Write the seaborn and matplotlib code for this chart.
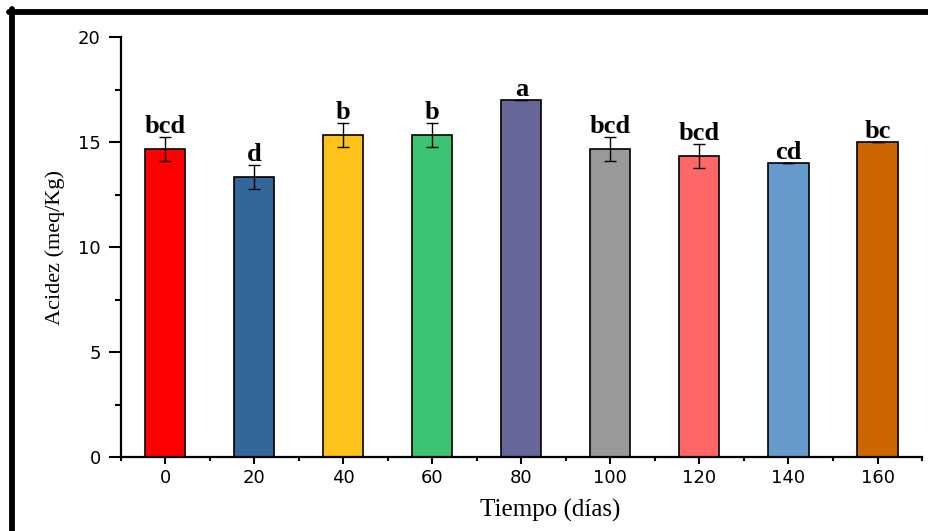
import numpy as np
import matplotlib
matplotlib.use("Agg")
import matplotlib.pyplot as plt
from matplotlib.ticker import MultipleLocator
from matplotlib.lines import Line2D
import seaborn as sns
import pandas as pd

# Data
dias = [0, 20, 40, 60, 80, 100, 120, 140, 160]
acidez = [14.67, 13.33, 15.33, 15.33, 17.0, 14.67, 14.33, 14.0, 15.0]
error = [0.58, 0.57, 0.58, 0.58, 0.0, 0.58, 0.58, 0.0, 0.0]
letras = ["bcd", "d", "b", "b", "a", "bcd", "bcd", "cd", "bc"]
colores = ["#FF0000", "#336699", "#FDC31A", "#3CC372", "#666699",
           "#999999", "#FF6666", "#6699CC", "#CC6600"]

df = pd.DataFrame({"Tiempo": dias, "Acidez": acidez})

sns.set_theme(style="ticks", rc={
    "axes.edgecolor": "black", "xtick.color": "black", "ytick.color": "black",
    "text.color": "black", "axes.labelcolor": "black",
})
plt.rcParams["font.family"] = ["DejaVu Sans"]

fig = plt.figure(figsize=(9.29, 5.31), dpi=100)
ax = fig.add_axes([0.130, 0.1394, 0.8625, 0.7906])

sns.barplot(
    data=df, x="Tiempo", y="Acidez", hue="Tiempo",
    palette=colores, native_scale=True, width=0.45, saturation=1,
    edgecolor="black", linewidth=1.2, errorbar=None,
    legend=False, ax=ax
)

# error bars (mean +- sd)
ax.errorbar(dias, acidez, yerr=error, fmt="none", ecolor="black",
            elinewidth=1.0, capsize=4.5, capthick=1.0, zorder=5)

# significance letters
for x, y, e, t in zip(dias, acidez, error, letras):
    ax.annotate(t, (x, y + e), xytext=(0, 3), textcoords="offset points",
                ha="center", va="baseline", fontsize=19, fontweight="bold",
                family="Liberation Serif", color="black")

ax.set_xlim(-10, 170)
ax.set_ylim(0, 20)
ax.set_xticks(dias)
ax.set_yticks([0, 5, 10, 15, 20])
ax.xaxis.set_minor_locator(MultipleLocator(10))
ax.yaxis.set_minor_locator(MultipleLocator(2.5))

sns.despine(ax=ax)
for s in ["left", "bottom"]:
    ax.spines[s].set_linewidth(1.6)

ax.tick_params(axis="y", which="major", direction="out", length=8.5, width=1.5,
               labelsize=13, pad=6)
ax.tick_params(axis="y", which="minor", direction="out", length=4.5, width=1.5)
ax.tick_params(axis="x", which="major", direction="out", length=5, width=1.5,
               labelsize=13, pad=4)
ax.tick_params(axis="x", which="minor", direction="out", length=3, width=1.5)

ax.set_xlabel("Tiempo (días)", fontsize=18, family="Liberation Serif")
ax.set_ylabel("Acidez (meq/Kg)", fontsize=16, family="Liberation Serif")
ax.xaxis.set_label_coords(0.536, -0.1)
ax.yaxis.set_label_coords(-0.07, 0.5)

# thick frame around the figure (only top and left visible in the crop)
fig.add_artist(Line2D([9 / 929, 1.0], [1 - 12 / 531, 1 - 12 / 531],
                      transform=fig.transFigure, color="black", linewidth=4.2))
fig.add_artist(Line2D([12 / 929, 12 / 929], [1 - 9 / 531, 0.0],
                      transform=fig.transFigure, color="black", linewidth=4.2))

fig.savefig("out.png", dpi=100)
